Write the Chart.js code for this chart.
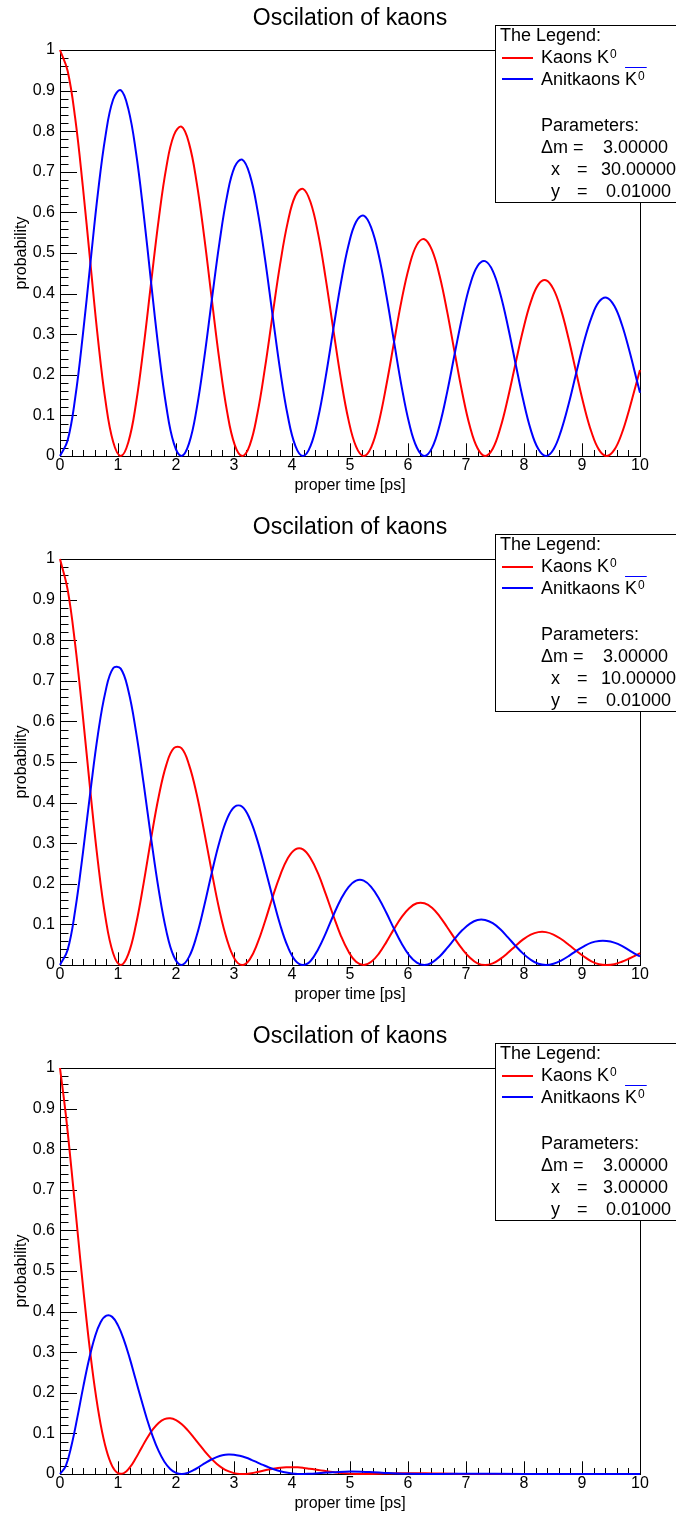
<!DOCTYPE html>
<html>
<head>
<meta charset="utf-8">
<script src="https://cdn.jsdelivr.net/npm/chart.js@4.4.0/dist/chart.umd.min.js"></script>
<style>
body { margin: 0; background: #fff; width: 676px; overflow: hidden; }
canvas { display: block; }
#c1 { margin-top: -4px; }
</style>
</head>
<body>
<canvas id="c1" width="676" height="509"></canvas>
<canvas id="c2" width="676" height="509"></canvas>
<canvas id="c3" width="676" height="509"></canvas>
<script>
// proper time samples [ps] for the two slow-decay panels
var timesAB = [0, 0.131, 0.262, 0.393, 0.524, 0.654, 0.785, 0.916,
  1.047, 1.178, 1.309, 1.440, 1.571, 1.702, 1.833, 1.963,
  2.094, 2.225, 2.356, 2.487, 2.618, 2.749, 2.880, 3.011,
  3.142, 3.272, 3.403, 3.534, 3.665, 3.796, 3.927, 4.058,
  4.189, 4.320, 4.451, 4.581, 4.712, 4.843, 4.974, 5.105,
  5.236, 5.367, 5.498, 5.629, 5.760, 5.890, 6.021, 6.152,
  6.283, 6.414, 6.545, 6.676, 6.807, 6.938, 7.069, 7.199,
  7.330, 7.461, 7.592, 7.723, 7.854, 7.985, 8.116, 8.247,
  8.378, 8.508, 8.639, 8.770, 8.901, 9.032, 9.163, 9.294,
  9.425, 9.556, 9.687, 9.817, 9.948, 10];

// panel 1 (x = 30)
var red1 = [1.000, 0.949, 0.832, 0.665, 0.475, 0.289, 0.135, 0.035,
  0, 0.034, 0.128, 0.267, 0.427, 0.583, 0.711, 0.790,
  0.811, 0.770, 0.674, 0.539, 0.385, 0.235, 0.110, 0.028,
  0, 0.027, 0.104, 0.217, 0.347, 0.473, 0.576, 0.641,
  0.658, 0.625, 0.547, 0.437, 0.312, 0.190, 0.089, 0.023,
  0, 0.022, 0.084, 0.176, 0.281, 0.384, 0.467, 0.520,
  0.534, 0.507, 0.444, 0.355, 0.253, 0.154, 0.072, 0.019,
  0, 0.018, 0.069, 0.143, 0.228, 0.311, 0.379, 0.422,
  0.433, 0.411, 0.360, 0.288, 0.205, 0.125, 0.059, 0.015,
  0, 0.015, 0.056, 0.116, 0.185, 0.212];
var blue1 = [0, 0.038, 0.143, 0.297, 0.475, 0.648, 0.789, 0.878,
  0.901, 0.855, 0.749, 0.599, 0.427, 0.260, 0.122, 0.031,
  0, 0.031, 0.116, 0.241, 0.385, 0.525, 0.640, 0.712,
  0.730, 0.693, 0.607, 0.486, 0.347, 0.211, 0.099, 0.025,
  0, 0.025, 0.094, 0.195, 0.312, 0.426, 0.519, 0.577,
  0.592, 0.562, 0.493, 0.394, 0.281, 0.171, 0.080, 0.021,
  0, 0.020, 0.076, 0.158, 0.253, 0.345, 0.421, 0.468,
  0.480, 0.456, 0.399, 0.319, 0.228, 0.139, 0.065, 0.017,
  0, 0.016, 0.062, 0.128, 0.205, 0.280, 0.341, 0.380,
  0.390, 0.370, 0.324, 0.259, 0.185, 0.156];

// panel 2 (x = 10)
var red2 = [1.000, 0.925, 0.789, 0.615, 0.427, 0.254, 0.116, 0.029,
  0, 0.027, 0.099, 0.200, 0.312, 0.415, 0.493, 0.534,
  0.534, 0.493, 0.421, 0.328, 0.228, 0.135, 0.062, 0.015,
  0, 0.014, 0.053, 0.107, 0.167, 0.221, 0.263, 0.285,
  0.285, 0.263, 0.225, 0.175, 0.122, 0.072, 0.033, 0.008,
  0, 0.008, 0.028, 0.057, 0.089, 0.118, 0.140, 0.152,
  0.152, 0.141, 0.120, 0.093, 0.065, 0.039, 0.018, 0.004,
  0, 0.004, 0.015, 0.030, 0.047, 0.063, 0.075, 0.081,
  0.081, 0.075, 0.064, 0.050, 0.035, 0.021, 0.009, 0.002,
  0, 0.002, 0.008, 0.016, 0.025, 0.029];
var blue2 = [0, 0.037, 0.135, 0.274, 0.427, 0.568, 0.674, 0.731,
  0.730, 0.676, 0.576, 0.449, 0.312, 0.185, 0.084, 0.021,
  0, 0.020, 0.072, 0.146, 0.228, 0.303, 0.360, 0.390,
  0.390, 0.360, 0.307, 0.239, 0.167, 0.099, 0.045, 0.011,
  0, 0.010, 0.039, 0.078, 0.122, 0.162, 0.192, 0.208,
  0.208, 0.192, 0.164, 0.128, 0.089, 0.053, 0.024, 0.006,
  0, 0.006, 0.021, 0.042, 0.065, 0.086, 0.102, 0.111,
  0.111, 0.103, 0.088, 0.068, 0.047, 0.028, 0.013, 0.003,
  0, 0.003, 0.011, 0.022, 0.035, 0.046, 0.055, 0.059,
  0.059, 0.055, 0.047, 0.036, 0.025, 0.021];

// panel 3 (x = 3), decays fast
var timesC = [0, 0.1, 0.2, 0.3, 0.4, 0.5, 0.6, 0.7, 0.8, 0.9, 1.0, 1.1, 1.2, 1.3, 1.4, 1.5,
  1.6, 1.7, 1.8, 1.9, 2.0, 2.1, 2.2, 2.3, 2.4, 2.5, 2.6, 2.7, 2.8, 2.9, 3.0, 3.1,
  3.2, 3.3, 3.4, 3.5, 3.6, 3.7, 3.8, 3.9, 4.0, 4.1, 4.2, 4.3, 4.4, 4.5, 4.6, 4.7,
  4.8, 4.9, 5.0, 5.2, 5.4, 5.6, 5.8, 6.0, 6.3, 6.6, 7, 8, 9, 10];
var red3 = [1, 0.885, 0.747, 0.601, 0.457, 0.325, 0.212, 0.123, 0.059, 0.0195, 0.0018, 0.0021,
  0.0155, 0.0373, 0.0629, 0.088, 0.1098, 0.1259, 0.1351, 0.1372, 0.1326, 0.1225, 0.108, 0.091,
  0.0729, 0.0553, 0.0392, 0.0255, 0.0146, 0.0069, 0.0022, 0.0002, 0.0003, 0.002, 0.0048, 0.0079,
  0.011, 0.0136, 0.0156, 0.0166, 0.0169, 0.0164, 0.015, 0.0131, 0.0111, 0.0089, 0.0067, 0.0047,
  0.003, 0.0017, 0.0008, 0, 0.0003, 0.001, 0.0017, 0.0021, 0.0018, 0.0011, 0.0002, 0.0001, 0, 0];
var blue3 = [0, 0.020, 0.0715, 0.140, 0.214, 0.282, 0.337, 0.374, 0.390, 0.387, 0.366, 0.331,
  0.286, 0.235, 0.184, 0.135, 0.0921, 0.0568, 0.0302, 0.0124, 0.0027, 0, 0.0028, 0.0093,
  0.0178, 0.0268, 0.0351, 0.0417, 0.0462, 0.0481, 0.0476, 0.0448, 0.0405, 0.0349, 0.0286, 0.0223,
  0.0163, 0.0111, 0.0068, 0.0036, 0.0014, 0.0002, 0, 0.0005, 0.0012, 0.0022, 0.0034, 0.0044,
  0.0052, 0.0057, 0.0059, 0.0055, 0.0042, 0.0027, 0.0013, 0.0004, 0, 0.0003, 0.0007, 0.0002, 0.0001, 0];

var yTickLabels = ['0', '0.1', '0.2', '0.3', '0.4', '0.5', '0.6', '0.7', '0.8', '0.9', '1'];
var xTickLabels = ['0', '1', '2', '3', '4', '5', '6', '7', '8', '9', '10'];
var panelTitle = 'Oscilation of kaons';
var deltaM = '3.00000';
var xParams = ['30.00000', '10.00000', '3.00000'];
var yParam = '0.01000';

var FONT = "'Liberation Sans', Arial, Helvetica, sans-serif";
Chart.defaults.font.family = FONT;
Chart.defaults.color = '#000';

// ROOT style frame: box, inner ticks, title
var rootFrame = {
  id: 'rootFrame',
  beforeDatasetsDraw: function (chart) {
    var ctx = chart.ctx, a = chart.chartArea, x = chart.scales.x, y = chart.scales.y;
    ctx.save();
    ctx.strokeStyle = '#000';
    ctx.lineWidth = 1;
    ctx.beginPath();
    for (var i = 0; i <= 50; i++) {
      var py = Math.round(y.getPixelForValue(i * 0.02)) + 0.5;
      ctx.moveTo(a.left, py);
      ctx.lineTo(a.left + (i % 5 === 0 ? 17 : 8.5), py);
    }
    for (var j = 0; j <= 50; j++) {
      var px = Math.round(x.getPixelForValue(j * 0.2)) + 0.5;
      ctx.moveTo(px, a.bottom);
      ctx.lineTo(px, a.bottom - (j % 5 === 0 ? 12.7 : 6));
    }
    ctx.stroke();
    ctx.strokeRect(a.left + 0.5, a.top + 0.5, a.right - a.left, a.bottom - a.top);
    ctx.restore();
  },
  afterDraw: function (chart) {
    var ctx = chart.ctx, a = chart.chartArea;
    ctx.save();
    ctx.fillStyle = '#000';
    ctx.font = '23px ' + FONT;
    ctx.textAlign = 'center';
    ctx.textBaseline = 'alphabetic';
    ctx.fillText(panelTitle, (a.left + a.right) / 2, 29);
    ctx.restore();
  }
};

var kaonLegend = {
  id: 'kaonLegend',
  afterDraw: function (chart, args, opts) {
    var ctx = chart.ctx;
    var ds = chart.data.datasets;
    ctx.save();
    ctx.fillStyle = '#fff';
    ctx.fillRect(495, 29, 200, 177);
    ctx.strokeStyle = '#000';
    ctx.lineWidth = 1;
    ctx.strokeRect(495.5, 29.5, 200, 177);

    ctx.lineWidth = 2;
    ctx.strokeStyle = ds[0].borderColor;
    ctx.beginPath(); ctx.moveTo(502, 62); ctx.lineTo(533, 62); ctx.stroke();
    ctx.strokeStyle = ds[1].borderColor;
    ctx.beginPath(); ctx.moveTo(502, 83); ctx.lineTo(533, 83); ctx.stroke();

    ctx.fillStyle = '#000';
    ctx.textBaseline = 'alphabetic';
    ctx.textAlign = 'left';
    ctx.font = '18px ' + FONT;
    ctx.fillText('The Legend:', 500, 45);
    ctx.fillText('Kaons K', 541, 67);
    var w1 = ctx.measureText('Kaons K').width;
    ctx.fillText('Anitkaons K', 541, 89);
    var w2 = ctx.measureText('Anitkaons K').width;
    var wk = ctx.measureText('K').width;
    ctx.fillText('Parameters:', 541, 135);
    ctx.fillText('\u0394m =', 541, 157);
    ctx.fillText(deltaM, 603, 157);
    ctx.fillText('x', 551, 179);
    ctx.fillText('=', 577, 179);
    ctx.fillText(opts.xParam, opts.xParam.length > 7 ? 601 : 603, 179);
    ctx.fillText('y', 551, 201);
    ctx.fillText('=', 577, 201);
    ctx.fillText(yParam, 606, 201);

    ctx.font = '12px ' + FONT;
    ctx.fillText('0', 541 + w1 + 1, 62);
    ctx.fillText('0', 541 + w2 + 1, 84);
    var ws = ctx.measureText('0').width;

    ctx.lineWidth = 1;
    ctx.beginPath();
    ctx.moveTo(541 + w2 - wk, 71.5);
    ctx.lineTo(541 + w2 + ws + 3, 71.5);
    ctx.stroke();
    ctx.restore();
  }
};

function makeChart(id, times, red, blue, xParam) {
  return new Chart(document.getElementById(id), {
    type: 'line',
    data: {
      datasets: [
        {
          label: 'Kaons K0',
          data: times.map(function (t, i) { return { x: t, y: red[i] }; }),
          borderColor: '#ff0000',
          clip: false,
          order: 1
        },
        {
          label: 'Anitkaons anti-K0',
          data: times.map(function (t, i) { return { x: t, y: blue[i] }; }),
          borderColor: '#0000ff',
          clip: false,
          order: 0
        }
      ]
    },
    options: {
      responsive: false,
      animation: false,
      devicePixelRatio: 1,
      layout: { padding: { left: 0, right: 36, top: 54, bottom: 0 } },
      elements: {
        point: { radius: 0 },
        line: { borderWidth: 2, tension: 0.4, fill: false }
      },
      scales: {
        x: {
          type: 'linear',
          min: 0,
          max: 10,
          ticks: {
            stepSize: 1, autoSkip: false, maxRotation: 0, padding: 2,
            font: { size: 16, lineHeight: 1 },
            callback: function (v, i) { return xTickLabels[i]; }
          },
          grid: { display: false, drawTicks: false },
          border: { display: false },
          title: { display: true, text: 'proper time [ps]', font: { size: 16 }, padding: { top: 0, bottom: 10 } },
          afterFit: function (s) { s.height = 49; s.paddingLeft = 0; s.paddingRight = 0; }
        },
        y: {
          min: 0,
          max: 1,
          ticks: {
            stepSize: 0.1, autoSkip: false, padding: 5,
            font: { size: 16 },
            callback: function (v, i) { return yTickLabels[i]; }
          },
          grid: { display: false, drawTicks: false },
          border: { display: false },
          title: { display: true, text: 'probability', font: { size: 16 }, padding: { top: 12, bottom: 0 } },
          afterFit: function (s) { s.width = 60; s.paddingTop = 0; s.paddingBottom = 0; }
        }
      },
      plugins: {
        legend: { display: false },
        tooltip: { enabled: false },
        title: { display: false },
        kaonLegend: { xParam: xParam }
      }
    },
    plugins: [rootFrame, kaonLegend]
  });
}

makeChart('c1', timesAB, red1, blue1, xParams[0]);
makeChart('c2', timesAB, red2, blue2, xParams[1]);
makeChart('c3', timesC, red3, blue3, xParams[2]);
</script>
</body>
</html>
